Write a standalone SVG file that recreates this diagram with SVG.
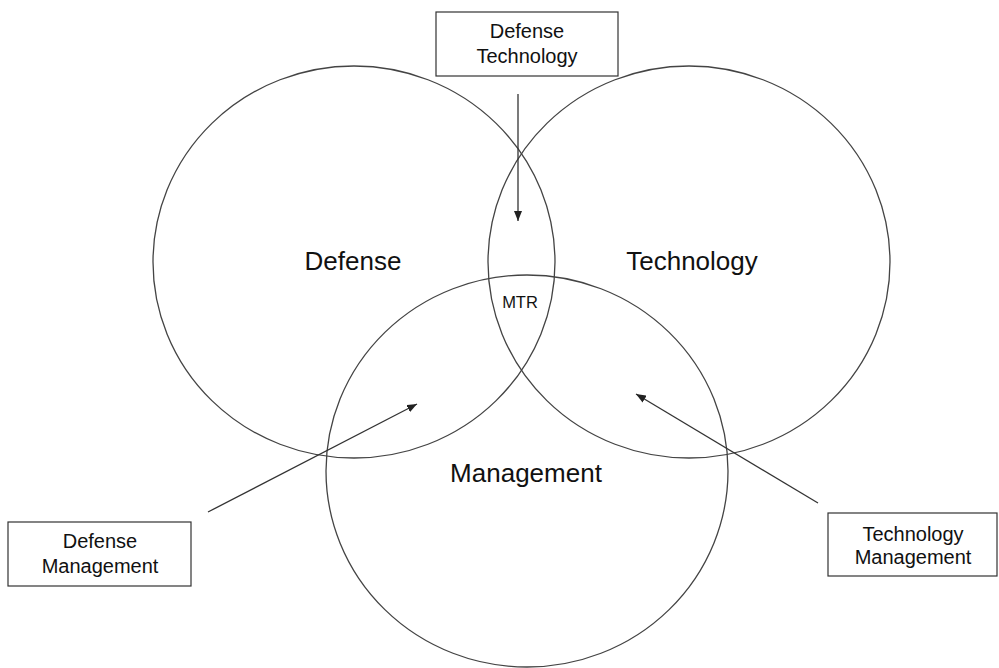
<svg xmlns="http://www.w3.org/2000/svg" width="999" height="668" viewBox="0 0 999 668">
<style>
.c{fill:none;stroke:#444;stroke-width:1.3}
.b{fill:#fff;stroke:#333;stroke-width:1.2}
.t{font-family:"Liberation Sans",Arial,sans-serif;fill:#111;text-anchor:middle}
.big{font-size:26px}
.sm{font-size:16.5px}
.lbl{font-size:20px}
.a{stroke:#333;stroke-width:1.3;fill:none;marker-end:url(#ah)}
</style>
<defs>
<marker id="ah" viewBox="0 0 10 8" refX="10" refY="4" markerWidth="10" markerHeight="8" markerUnits="userSpaceOnUse" orient="auto">
<path d="M0,0L10,4L0,8z" fill="#222"/>
</marker>
</defs>
<rect width="999" height="668" fill="#fff"/>
<g id="defense">
<ellipse class="c" cx="354" cy="262" rx="201" ry="196"/>
<text class="t big" x="353" y="270">Defense</text>
</g>
<g id="technology">
<ellipse class="c" cx="689" cy="262" rx="201" ry="196"/>
<text class="t big" x="692" y="270">Technology</text>
</g>
<g id="management">
<ellipse class="c" cx="527" cy="471" rx="201" ry="196"/>
<text class="t big" x="526" y="482">Management</text>
</g>
<g id="mtr">
<text class="t sm" x="520" y="308">MTR</text>
</g>
<g id="defense-technology">
<rect class="b" x="436" y="12" width="182" height="64"/>
<text class="t lbl" x="527" y="38">Defense</text>
<text class="t lbl" x="527" y="63">Technology</text>
</g>
<g id="defense-management">
<rect class="b" x="8" y="522" width="183" height="64"/>
<text class="t lbl" x="100" y="548">Defense</text>
<text class="t lbl" x="100" y="573">Management</text>
</g>
<g id="technology-management">
<rect class="b" x="828" y="513" width="169" height="63"/>
<text class="t lbl" x="913" y="541">Technology</text>
<text class="t lbl" x="913" y="564">Management</text>
</g>
<g id="connectors">
<line class="a" x1="518" y1="94" x2="518" y2="221"/>
<line class="a" x1="208" y1="512" x2="417" y2="404"/>
<line class="a" x1="818" y1="503" x2="636" y2="394"/>
</g>
</svg>
